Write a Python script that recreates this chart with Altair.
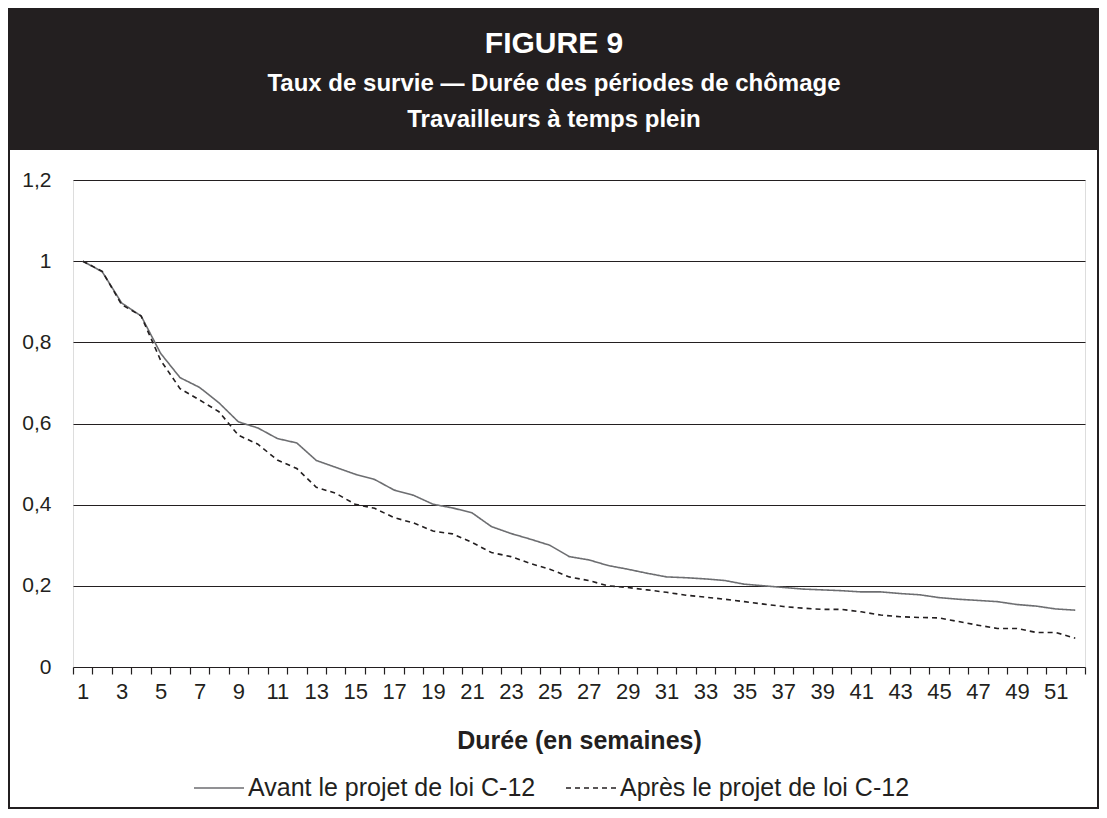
import altair as alt
import pandas as pd

# ---- data ----
weeks = list(range(1, 53))
avant = [1.000, 0.974, 0.897, 0.865, 0.773, 0.713, 0.689, 0.651, 0.604, 0.589,
         0.563, 0.552, 0.509, 0.492, 0.475, 0.462, 0.436, 0.423, 0.401, 0.392,
         0.380, 0.346, 0.329, 0.315, 0.300, 0.272, 0.264, 0.250, 0.241, 0.231,
         0.222, 0.220, 0.217, 0.213, 0.204, 0.200, 0.196, 0.192, 0.190, 0.188,
         0.185, 0.185, 0.181, 0.178, 0.171, 0.167, 0.164, 0.161, 0.154, 0.150,
         0.143, 0.140]
apres = [1.000, 0.975, 0.893, 0.865, 0.756, 0.686, 0.658, 0.629, 0.571, 0.549,
         0.510, 0.489, 0.443, 0.428, 0.401, 0.391, 0.368, 0.355, 0.335, 0.328,
         0.307, 0.282, 0.272, 0.255, 0.241, 0.222, 0.213, 0.200, 0.196, 0.190,
         0.184, 0.177, 0.172, 0.167, 0.161, 0.155, 0.149, 0.145, 0.142, 0.142,
         0.136, 0.128, 0.124, 0.122, 0.121, 0.112, 0.103, 0.095, 0.095, 0.085,
         0.085, 0.071]
series_names = ["Avant le projet de loi C-12", "Après le projet de loi C-12"]
y_ticks = [0, 0.2, 0.4, 0.6, 0.8, 1.0, 1.2]
x_title = "Durée (en semaines)"
title_main = "FIGURE 9"
title_sub1 = "Taux de survie — Durée des périodes de chômage"
title_sub2 = "Travailleurs à temps plein"

df = pd.DataFrame({
    "week": weeks + weeks,
    "value": avant + apres,
    "series": [series_names[0]] * len(weeks) + [series_names[1]] * len(weeks),
})

# ---- layout ----
W, H = 1012, 487
PL, PT = 65, 172
TOTAL_W, TOTAL_H = 1091, 802
PR = TOTAL_W - PL - W
PB = TOTAL_H - PT - H
FONT = "Liberation Sans"
DARK = "#231f20"
GREY = "#6d6e71"

one = pd.DataFrame({"k": [0]})

header = alt.Chart(one).mark_rect(color=DARK).encode(
    x=alt.value(-PL), x2=alt.value(W + PR), y=alt.value(-PT), y2=alt.value(-30)
)
frame = alt.Chart(one).mark_rect(fillOpacity=0, stroke=DARK, strokeWidth=2).encode(
    x=alt.value(-PL + 1), x2=alt.value(W + PR - 1), y=alt.value(-PT + 1), y2=alt.value(H + PB - 2)
)


def header_text(txt, y, size):
    return alt.Chart(one).mark_text(
        font=FONT, fontWeight="bold", fontSize=size, color="white",
        align="center", baseline="middle"
    ).encode(x=alt.value(481), y=alt.value(y), text=alt.value(txt))


t1 = header_text(title_main, -136, 30)
t2 = header_text(title_sub1, -96, 24)
t3 = header_text(title_sub2, -60, 24)

color_scale = alt.Scale(domain=series_names, range=[GREY, DARK])
dash_scale = alt.Scale(domain=series_names, range=[[1, 0], [5, 4]])
leg = alt.Legend(
    title=None, orient="none", legendX=120, legendY=582, direction="horizontal",
    symbolType="stroke", symbolSize=2500, symbolStrokeWidth=1.6,
    labelFont=FONT, labelFontSize=25, labelColor=DARK, labelLimit=500,
    labelOffset=3, columnPadding=26,
)

lines = alt.Chart(df).mark_line(strokeWidth=1.6).encode(
    x=alt.X(
        "week:O", bandPosition=0.5,
        scale=alt.Scale(type="band", paddingInner=0, paddingOuter=0),
        axis=alt.Axis(
            title=x_title, labelAngle=0, labelOverlap=False,
            labelExpr="datum.value % 2 == 1 ? datum.label : ''",
            tickBand="extent", tickSize=7, tickColor=DARK, tickWidth=1.2,
            domain=False, grid=False,
            labelFont=FONT, labelFontSize=22, labelColor=DARK, labelPadding=7,
            titleFont=FONT, titleFontSize=25, titleFontWeight="bold",
            titleColor=DARK, titlePadding=26,
        ),
    ),
    y=alt.Y(
        "value:Q",
        scale=alt.Scale(domain=[0, 1.2], nice=False, zero=True),
        axis=alt.Axis(
            title=None, values=y_ticks, format="~g",
            labelExpr="replace(datum.label, '.', ',')",
            ticks=False, domain=False, grid=True, gridColor=DARK, gridWidth=1.2,
            labelFont=FONT, labelFontSize=21, labelColor=DARK, labelPadding=22,
        ),
    ),
    color=alt.Color("series:N", scale=color_scale, legend=leg),
    strokeDash=alt.StrokeDash("series:N", scale=dash_scale, legend=leg),
)

chart = alt.layer(header, frame, t1, t2, t3, lines).properties(
    width=W, height=H,
    autosize=alt.AutoSizeParams(type="none"),
    padding={"left": PL, "top": PT, "right": PR, "bottom": PB},
).configure_view(stroke=DARK, strokeWidth=2).configure(background="white")

chart.save("out.html", embed_options={"renderer": "svg", "actions": False})
